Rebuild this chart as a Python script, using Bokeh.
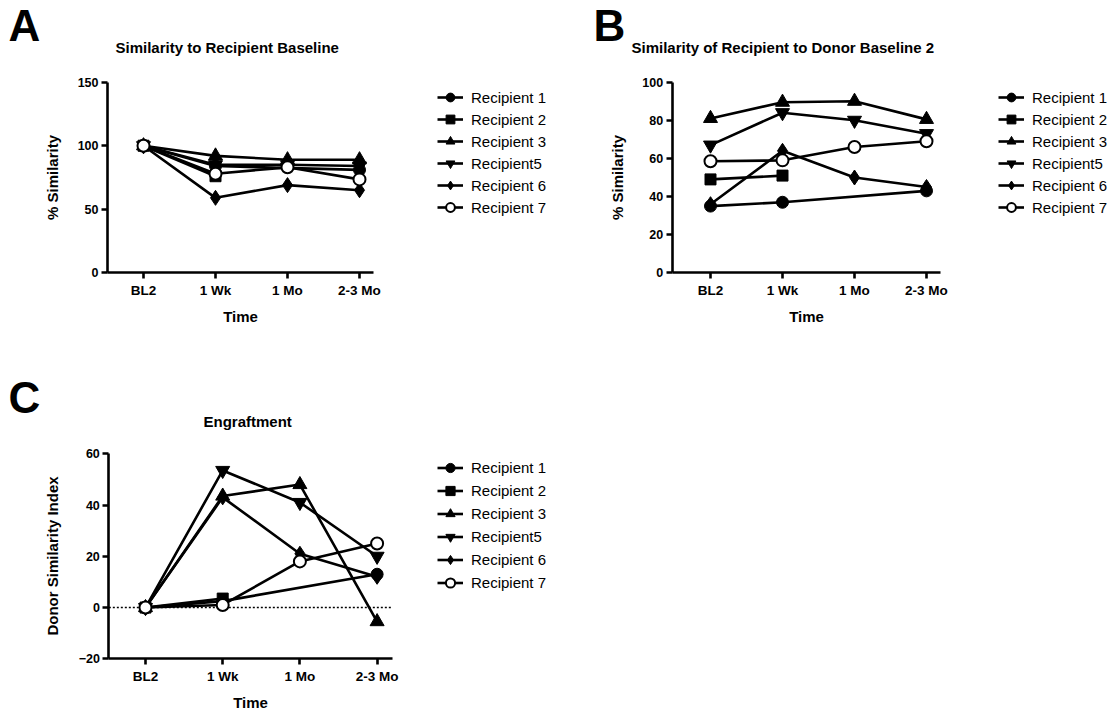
import math
from bokeh.plotting import figure
from bokeh.models import FixedTicker, Legend, LegendItem, Label, Range1d
from bokeh.layouts import row, column
from bokeh.embed import file_html
from bokeh.resources import INLINE

# ---------------- data ----------------
time_labels = ["BL2", "1 Wk", "1 Mo", "2-3 Mo"]
series_names = ["Recipient 1", "Recipient 2", "Recipient 3", "Recipient5", "Recipient 6", "Recipient 7"]
nan = float("nan")

# Panel A: Similarity to Recipient Baseline (%)
a_r1 = [100, 84, nan, 81]
a_r2 = [100, 76, nan, nan]
a_r3 = [100, 92, 89, 89]
a_r5 = [100, 85, 85, 84]
a_r6 = [100, 59, 69, 65]
a_r7 = [100, 78, 83, 73.5]

# Panel B: Similarity of Recipient to Donor Baseline 2 (%)
b_r1 = [35, 37, nan, 43]
b_r2 = [49, 51, nan, nan]
b_r3 = [81, 89.5, 90, 80.5]
b_r5 = [67, 84, 80, 73]
b_r6 = [36, 64, 50, 45]
b_r7 = [58.5, 59, 66, 69]

# Panel C: Engraftment (Donor Similarity Index)
c_r1 = [0, 2.5, nan, 13]
c_r2 = [0, 3.5, nan, nan]
c_r3 = [0, 43.5, 48, -5.5]
c_r5 = [0, 53.5, 41, 20]
c_r6 = [0, 43, 21, 12]
c_r7 = [0, 1, 18, 25]

a_ticks = [0, 50, 100, 150]
b_ticks = [0, 20, 40, 60, 80, 100]
c_ticks = [-20, 0, 20, 40, 60]

# ---------------- styling ----------------
FONT = "Liberation Sans"
markers = [
    dict(marker="circle", size=12, fill_color="black"),
    dict(marker="square", size=11, fill_color="black"),
    dict(marker="triangle", size=14, fill_color="black"),
    dict(marker="inverted_triangle", size=14, fill_color="black"),
    dict(marker="diamond", size=15, fill_color="black"),
    dict(marker="circle", size=12, fill_color="white"),
]


def make_panel(cw, ch, x0_px, dx_px, yv_lo, ypx_lo, yv_hi, ypx_hi, x_lo, x_hi,
               yticks, ylabel, data, letter, letter_xy, title, title_xy, legend_xy, row_h,
               zero_line=False):
    # map the plot area (pixel layout) onto data ranges for a full-canvas frame
    k = (ypx_lo - ypx_hi) / (yv_hi - yv_lo)
    xr = Range1d(-x0_px / dx_px, (cw - x0_px) / dx_px)
    yr = Range1d(yv_lo - (ch - ypx_lo) / k, yv_lo + ypx_lo / k)
    p = figure(width=cw, height=ch, output_backend="svg", toolbar_location=None,
               x_range=xr, y_range=yr)
    p.min_border = 0
    p.min_border_left = 0
    p.min_border_right = 0
    p.min_border_top = 0
    p.min_border_bottom = 0
    p.outline_line_color = None
    p.background_fill_color = "white"
    p.border_fill_color = "white"
    p.xgrid.visible = False
    p.ygrid.visible = False

    for ax in (p.xaxis[0], p.yaxis[0]):
        ax.axis_line_width = 2.6
        ax.axis_line_color = "black"
        ax.major_tick_line_width = 2.6
        ax.major_tick_line_color = "black"
        ax.major_tick_out = 6
        ax.major_tick_in = 0
        ax.minor_tick_line_color = None
        ax.major_label_text_font = FONT
        ax.major_label_text_font_style = "bold"
        ax.major_label_text_color = "black"
        ax.axis_label_text_font = FONT
        ax.axis_label_text_font_style = "bold"
        ax.axis_label_text_font_size = "15px"
        ax.axis_label_text_color = "black"

    xa = p.xaxis[0]
    xa.fixed_location = yv_lo
    xa.bounds = (x_lo, x_hi)
    xa.ticker = FixedTicker(ticks=[0, 1, 2, 3])
    xa.major_label_overrides = {i: t for i, t in enumerate(time_labels)}
    xa.major_label_text_font_size = "13.5px"
    xa.major_label_standoff = 4
    xa.axis_label = "Time"
    xa.axis_label_standoff = 7

    ya = p.yaxis[0]
    ya.fixed_location = x_lo
    ya.bounds = (yv_lo, yv_hi)
    ya.ticker = FixedTicker(ticks=yticks)
    ya.major_label_text_font_size = "12.5px"
    ya.major_label_standoff = 3
    ya.axis_label = ylabel
    ya.axis_label_standoff = 14

    if zero_line:
        p.segment(x0=[x_lo], y0=[0], x1=[x_hi], y1=[0], line_color="black",
                  line_width=1.6, line_dash="2 2")

    items = []
    for name, ys, mk in zip(series_names, data, markers):
        xs = [i for i, v in enumerate(ys) if not math.isnan(v)]
        yv = [v for v in ys if not math.isnan(v)]
        lr = p.line(xs, yv, line_color="black", line_width=2.6)
        sr = p.scatter(xs, yv, marker=mk["marker"], size=mk["size"],
                       fill_color=mk["fill_color"], line_color="black",
                       line_width=2 if mk["fill_color"] == "white" else 1)
        items.append(LegendItem(label=name, renderers=[lr, sr]))

    legend = Legend(items=items, location=legend_xy, padding=0, margin=0,
                    border_line_color=None, background_fill_alpha=0,
                    glyph_width=26, glyph_height=row_h, label_height=row_h,
                    spacing=0, label_standoff=8,
                    label_text_font=FONT, label_text_font_size="15px",
                    label_text_color="black")
    p.add_layout(legend)
    p.add_layout(Label(x=letter_xy[0], y=letter_xy[1], x_units="screen", y_units="screen",
                       text=letter, text_font=FONT, text_font_style="bold",
                       text_font_size="44px", text_color="black", text_baseline="alphabetic"))
    p.add_layout(Label(x=title_xy[0], y=title_xy[1], x_units="screen", y_units="screen",
                       text=title, text_font=FONT, text_font_style="bold",
                       text_font_size="15px", text_color="black", text_baseline="alphabetic"))
    return p


# Panel A  (canvas 590 x 343)
pA = make_panel(590, 343, 143, 72, 0, 272.3, 150, 81.7, -0.5, 3.2,
                a_ticks, "% Similarity", [a_r1, a_r2, a_r3, a_r5, a_r6, a_r7],
                "A", (8, 318), "Similarity to Recipient Baseline", (115, 296), (437, 125), 22)

# Panel B  (canvas 522 x 343, starts at x=590)
pB = make_panel(522, 343, 120, 72, 0, 272.3, 100, 81.7, -0.532, 3.2,
                b_ticks, "% Similarity", [b_r1, b_r2, b_r3, b_r5, b_r6, b_r7],
                "B", (3, 318), "Similarity of Recipient to Donor Baseline 2", (41, 296), (408, 125), 22)

# Panel C  (canvas 590 x 369, starts at y=343)
pC = make_panel(590, 369, 145, 77.2, -20, 315.3, 60, 110.3, -0.475, 3.2,
                c_ticks, "Donor Similarity Index", [c_r1, c_r2, c_r3, c_r5, c_r6, c_r7],
                "C", (8, 315), "Engraftment", (203, 291), (437, 118), 23, zero_line=True)

layout = column(row(pA, pB), pC)
open("out.html", "w").write(file_html(layout, INLINE))
